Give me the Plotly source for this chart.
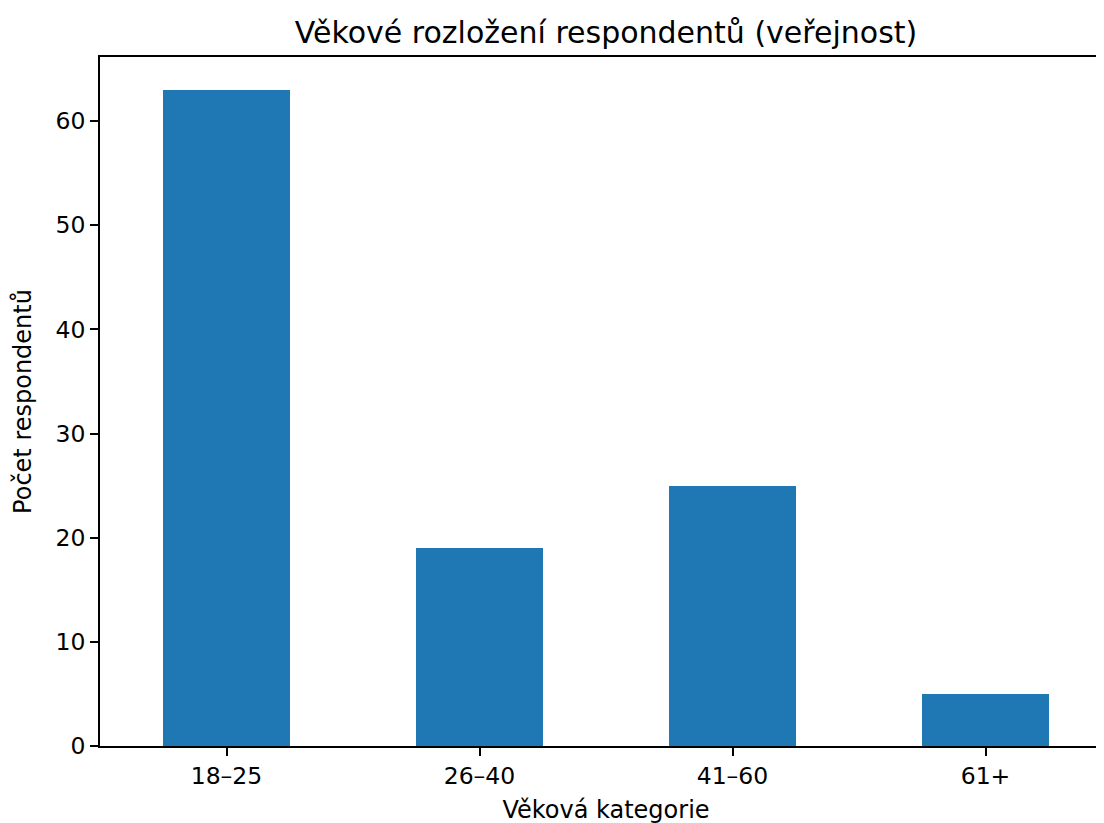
import plotly.graph_objects as go

categories = ["18–25", "26–40", "41–60", "61+"]
counts = [63, 19, 25, 5]

title_text = "Věkové rozložení respondentů (veřejnost)"
x_label = "Věková kategorie"
y_label = "Počet respondentů"

font_family = "DejaVu Sans"

fig = go.Figure(
    go.Bar(
        x=list(range(len(categories))),
        y=counts,
        width=0.5,
        marker=dict(color="#1f77b4", line=dict(width=0)),
    )
)

fig.update_layout(
    width=1104,
    height=823,
    margin=dict(l=92, r=0, t=49, b=85),
    paper_bgcolor="white",
    plot_bgcolor="white",
    showlegend=False,
    font=dict(family=font_family, size=24, color="#000000"),
    title=dict(
        text=title_text,
        font=dict(family=font_family, size=30, color="#000000"),
        x=598 / 1104,
        xanchor="center",
        xref="container",
        y=1 - 24 / 823,
        yanchor="middle",
        yref="container",
    ),
    bargap=0,
)

fig.update_xaxes(
    range=[-0.5, 3.5],
    tickmode="array",
    tickvals=list(range(len(categories))),
    ticktext=categories,
    showgrid=False,
    zeroline=False,
    showline=True,
    linecolor="black",
    linewidth=1.8,
    mirror=True,
    ticks="outside",
    ticklen=8,
    tickwidth=1.8,
    tickcolor="black",
    tickfont=dict(size=23.5),
    title=dict(text=x_label, font=dict(size=24), standoff=12),
)

fig.update_yaxes(
    range=[0, 66.15],
    tickmode="array",
    tickvals=[0, 10, 20, 30, 40, 50, 60],
    showgrid=False,
    zeroline=False,
    showline=True,
    linecolor="black",
    linewidth=1.8,
    mirror=False,
    ticks="outside",
    ticklen=8,
    tickwidth=1.8,
    tickcolor="black",
    tickfont=dict(size=23.5),
    title=dict(text=y_label, font=dict(size=24), standoff=17),
)

fig.write_html("out.html")
